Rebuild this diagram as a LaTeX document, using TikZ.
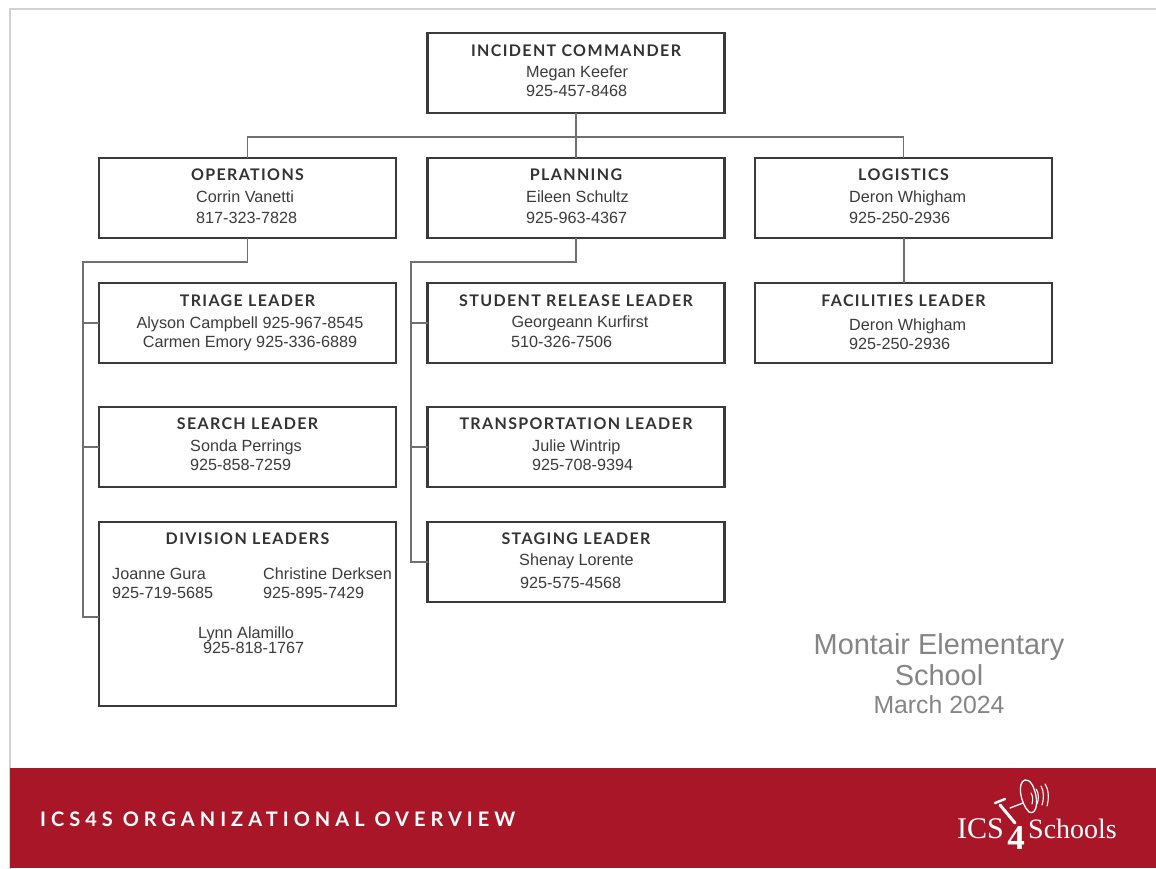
\documentclass[tikz,border=0pt]{standalone}
\usepackage{fontspec}
\setmainfont{Liberation Sans}
\newfontfamily\titlefont[LetterSpace=8.5,Ligatures=NoCommon]{Lato Bold}
\newfontfamily\bandfont[LetterSpace=25,Ligatures=NoCommon]{Lato Bold}
\newfontfamily\logofont{Liberation Serif}
\definecolor{bandred}{HTML}{A91628}
\definecolor{boxline}{HTML}{3A3A3A}
\definecolor{wireline}{HTML}{707070}
\definecolor{txt}{HTML}{3C3C3C}
\definecolor{ttl}{HTML}{333333}
\definecolor{schoolgray}{HTML}{858585}
\definecolor{edge}{HTML}{D2D2D2}
\tikzset{
  x=1pt,y=-1pt,
  orgbox/.style={draw=boxline,line width=2.2pt,fill=white,minimum width=297pt,minimum height=80pt,inner sep=0pt,outer sep=0pt},
  wire/.style={draw=wireline,line width=1.3pt,line join=miter},
  boxtitle/.style={font=\titlefont\fontsize{16}{16}\selectfont,text=ttl,anchor=base,inner sep=0pt},
  who/.style={font=\fontsize{16.2}{16}\selectfont,text=txt,anchor=base west,inner sep=0pt},
  whoc/.style={font=\fontsize{16.2}{16}\selectfont,text=txt,anchor=base,inner sep=0pt},
  school/.style={text=schoolgray,anchor=base,inner sep=0pt},
  logoline/.style={draw=white,line cap=round,line join=round},
}
\begin{document}
\begin{tikzpicture}
\useasboundingbox (0,0) rectangle (1156,869);
\fill[white] (0,0) rectangle (1156,869);
\draw[edge,line width=2pt] (10,869) -- (10,9.5) -- (1156,9.5);
\fill[bandred] (10,768) rectangle (1156,868);

% boxes
\node[orgbox] (ic) at (576,73) {};
\node[orgbox] (ops) at (247.5,198) {};
\node[orgbox] (plan) at (576,198) {};
\node[orgbox] (log) at (903.5,198) {};
\node[orgbox] (triage) at (247.5,323) {};
\node[orgbox] (release) at (576,323) {};
\node[orgbox] (fac) at (903.5,323) {};
\node[orgbox] (search) at (247.5,447) {};
\node[orgbox] (trans) at (576,447) {};
\node[orgbox] (staging) at (576,562) {};
\node[orgbox,minimum height=184pt] (div) at (247.5,614) {};

% connectors
\coordinate (busC) at (ic.south |- 0,137);
\draw[wire] (ic.south) -- (busC);
\draw[wire] (ops.north) |- (busC) -| (log.north);
\draw[wire] (busC) -- (plan.north);
\coordinate (opsTurn) at (83,262);
\coordinate (planTurn) at (411,262);
\draw[wire] (ops.south) |- (opsTurn) |- (div.west |- 0,617);
\draw[wire] (opsTurn |- triage.west) -- (triage.west);
\draw[wire] (opsTurn |- search.west) -- (search.west);
\draw[wire] (plan.south) |- (planTurn) |- (staging.west);
\draw[wire] (planTurn |- release.west) -- (release.west);
\draw[wire] (planTurn |- trans.west) -- (trans.west);
\draw[wire,line width=2pt] (log.south) -- (fac.north);

% titles
\node[boxtitle] (t1) at (576,56.5) {INCIDENT COMMANDER};
\node[boxtitle] (t2) at (247.5,181) {OPERATIONS};
\node[boxtitle] (t3) at (576,181) {PLANNING};
\node[boxtitle] (t4) at (903.5,181) {LOGISTICS};
\node[boxtitle] (t5) at (247.5,306) {TRIAGE LEADER};
\node[boxtitle] (t6) at (576,306) {STUDENT RELEASE LEADER};
\node[boxtitle] (t7) at (903.5,306) {FACILITIES LEADER};
\node[boxtitle] (t8) at (247.5,429) {SEARCH LEADER};
\node[boxtitle] (t9) at (576,429) {TRANSPORTATION LEADER};
\node[boxtitle] (t10) at (576,544) {STAGING LEADER};
\node[boxtitle] (t11) at (247.5,544) {DIVISION LEADERS};

% people
\node[who] (a1) at (526,78) {Megan Keefer};
\node[who] (a2) at (526,97) {925-457-8468};
\node[who] (b1) at (196,203) {Corrin Vanetti};
\node[who] (b2) at (196,223) {817-323-7828};
\node[who] (c1) at (526,203) {Eileen Schultz};
\node[who] (c2) at (526,223) {925-963-4367};
\node[who] (d1) at (849,203) {Deron Whigham};
\node[who] (d2) at (849,223) {925-250-2936};
\node[whoc] (e1) at (250,328) {Alyson Campbell 925-967-8545};
\node[whoc] (e2) at (250,347) {Carmen Emory 925-336-6889};
\node[whoc] (f1) at (580,327) {Georgeann Kurfirst};
\node[who] (f2) at (511,347) {510-326-7506};
\node[who] (g1) at (849,330) {Deron Whigham};
\node[who] (g2) at (849,349) {925-250-2936};
\node[who] (h1) at (190,451) {Sonda Perrings};
\node[who] (h2) at (190,470) {925-858-7259};
\node[who] (i1) at (532,451) {Julie Wintrip};
\node[who] (i2) at (532,470) {925-708-9394};
\node[who] (j1) at (519,565) {Shenay Lorente};
\node[who] (j2) at (520,588) {925-575-4568};
\node[who] (k1) at (112,579) {Joanne Gura};
\node[who] (k2) at (112,598) {925-719-5685};
\node[who] (l1) at (263,579) {Christine Derksen};
\node[who] (l2) at (263,598) {925-895-7429};
\node[who] (m1) at (198,638) {Lynn Alamillo};
\node[who] (m2) at (203,653) {925-818-1767};

% school label
\node[school,font=\fontsize{28.9}{29}\selectfont] (s1) at (939,654) {Montair Elementary};
\node[school,font=\fontsize{28.9}{29}\selectfont] (s2) at (939,685) {School};
\node[school,font=\fontsize{24.8}{25}\selectfont] (s3) at (939,713) {March 2024};

% band
\node[font=\bandfont\fontsize{20}{20}\selectfont,text=white,anchor=base west,inner sep=0pt] (band) at (40,826) {ICS4S ORGANIZATIONAL OVERVIEW};

% logo
\node[font=\logofont\fontsize{30}{30}\selectfont,text=white,anchor=base west,inner sep=0pt] (lg1) at (957,838) {ICS};
\node[font=\logofont\bfseries\fontsize{35}{35}\selectfont,text=white,anchor=base,inner sep=0pt] (lg2) at (1016,849) {4};
\node[font=\logofont\fontsize{28}{28}\selectfont,text=white,anchor=base west,inner sep=0pt] (lg3) at (1028,838) {Schools};
\draw[logoline,line width=3pt] (1000,805) -- (1015,823);
\draw[logoline,line width=2.4pt] (995,803) -- (1005,799);
\draw[logoline,line width=1.3pt] (1010,808) -- (1023,803);
\draw[logoline,line width=1.3pt] (1025,780) .. controls (1017,782) and (1020,803) .. (1029,812) .. controls (1035,815) and (1038,806) .. (1036,796) .. controls (1034,786) and (1030,779) .. (1025,780);
\draw[logoline,line width=1.1pt] (1031,793) .. controls (1033,796) and (1033,800) .. (1032,804);
\draw[logoline,line width=1.1pt] (1036,789) .. controls (1039,793) and (1039,799) .. (1037,804);
\draw[logoline,line width=1.1pt] (1041,786) .. controls (1044,791) and (1044,799) .. (1042,805);
\draw[logoline,line width=1.1pt] (1045,784) .. controls (1049,790) and (1049,799) .. (1047,806);
\end{tikzpicture}
\end{document}
